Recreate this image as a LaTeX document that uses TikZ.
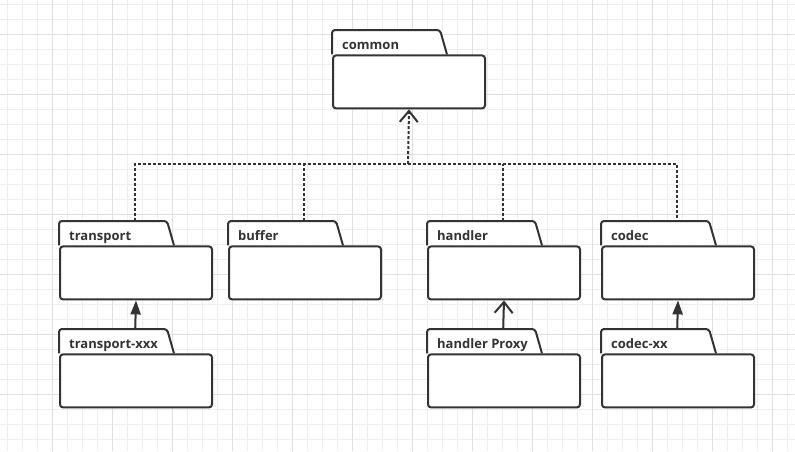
\documentclass[tikz,border=0pt]{standalone}
\usepackage{fontspec}
\setmainfont{Open Sans}
\usetikzlibrary{arrows.meta}
\definecolor{ink}{HTML}{333333}
\definecolor{gridminor}{HTML}{EEEEEE}
\definecolor{gridmajor}{HTML}{E0E0E0}
\tikzset{
  pkghead/.style={anchor=north west, minimum width=152pt, minimum height=24pt, inner sep=0pt, draw=none},
  pkgbody/.style={anchor=north west, draw=ink, line width=2pt, fill=white, rounded corners=3pt, minimum width=152pt, minimum height=53pt, inner sep=0pt},
  pkgtab/.style={draw=ink, line width=2pt, fill=white, rounded corners=3pt},
  pkglabel/.style={anchor=base west, inner sep=0pt, text=ink, font=\bfseries\fontsize{13pt}{15pt}\selectfont},
  dotline/.style={draw=ink, line width=2pt, dash pattern=on 3pt off 2pt},
  solidline/.style={draw=ink, line width=2pt},
  filledtip/.style={-{Triangle[length=14pt,width=10pt]}},
  opentip/.style={-{Straight Barb[length=11pt,width=18pt]}},
}
\newcommand\pkgbox[4]{%
  \node[pkghead] (#1h) at (#2,#3) {};
  \path[pkgtab] (#1h.south west) -- (#1h.north west) -- ([xshift=108pt]#1h.north west) -- ([xshift=115pt]#1h.south west);
  \node[pkgbody] (#1) at (#1h.south west) {};
  \node[pkglabel] (#1l) at ({#2+10},{#3+19}) {#4};
}
\begin{document}
\begin{tikzpicture}[x=1pt,y=-1pt]
\fill[white] (0,0) rectangle (795,451);
\useasboundingbox (0,0) rectangle (795,451);
% grid
\foreach \i in {0,...,52} {\draw[gridminor, line width=1pt] ({7.5+15*\i},0) -- ({7.5+15*\i},451);}
\foreach \i in {0,...,29} {\draw[gridminor, line width=1pt] (0,{4+15*\i}) -- (795,{4+15*\i});}
\foreach \i in {0,...,12} {\draw[gridmajor, line width=1pt] ({52.5+60*\i},0) -- ({52.5+60*\i},451);}
\foreach \i in {0,...,6} {\draw[gridmajor, line width=1pt] (0,{34+60*\i}) -- (795,{34+60*\i});}
% packages
\pkgbox{common}{332}{30}{common}
\pkgbox{transport}{59}{221}{transport}
\pkgbox{buffer}{228}{221}{buffer}
\pkgbox{handler}{427}{221}{handler}
\pkgbox{codec}{601}{221}{codec}
\pkgbox{transportxxx}{59}{329}{transport-xxx}
\pkgbox{handlerproxy}{427}{329}{handler Proxy}
\pkgbox{codecxx}{601}{329}{codec-xx}
% dependency bus
\coordinate (bus) at (408,164);
\draw[dotline] (transporth.north) -- (transporth.north |- bus) -- (codech.north |- bus) -- (codech.north);
\draw[dotline] (bufferh.north) -- (bufferh.north |- bus);
\draw[dotline] (handlerh.north) -- (handlerh.north |- bus);
\draw[dotline, opentip] (bus) -- (common.south);
% sub-package links
\draw[solidline, filledtip] (transportxxxh.north) -- (transport.south);
\draw[solidline, opentip] (handlerproxyh.north) -- (handler.south);
\draw[solidline, filledtip] (codecxxh.north) -- (codec.south);
\end{tikzpicture}
\end{document}
